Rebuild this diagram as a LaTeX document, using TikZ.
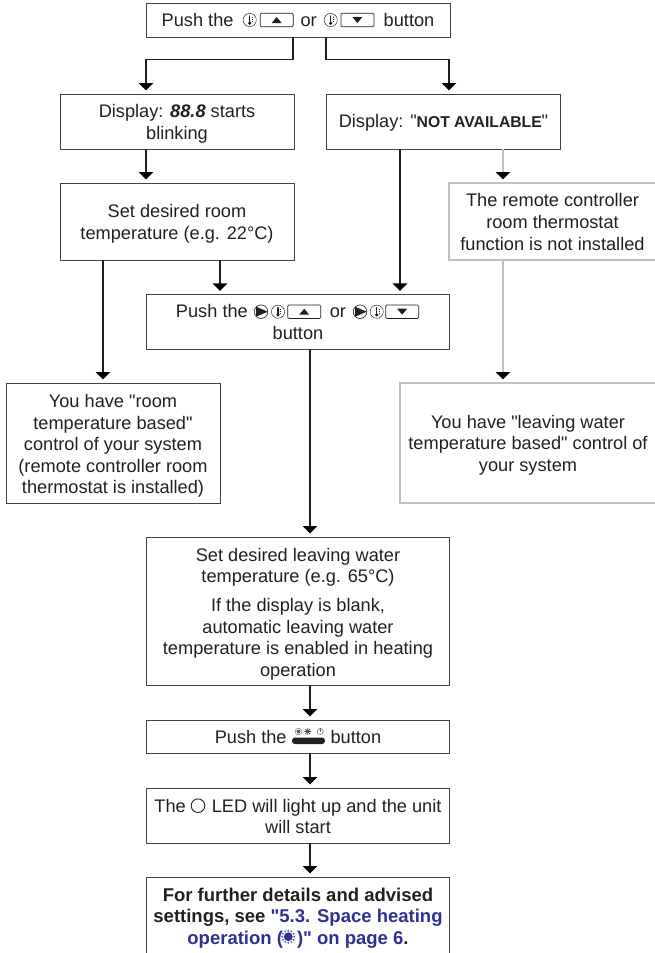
\documentclass[tikz,border=0pt]{standalone}
\usepackage{fontspec}
\setmainfont{Liberation Sans}[Ligatures=TeXOff]
\usetikzlibrary{arrows.meta}
\definecolor{ink}{HTML}{231F20}
\definecolor{lgray}{HTML}{BFC0C4}
\definecolor{lblue}{HTML}{2E3192}
% lowers a node's text by #1 pt: an invisible strut on its first line
\newcommand{\dropby}[1]{\rule{0pt}{\dimexpr 13.2pt+#1pt+#1pt\relax}}
\tikzset{
  box/.style={draw=ink!85!white,line width=0.9pt,inner sep=0pt,outer sep=0pt,align=center,text=ink,
    font=\fontsize{18.2}{21.6}\selectfont},
  graybox/.style={box,draw=lgray,line width=2.6pt},
  noline/.style={box,draw=none},
  flow/.style={draw=ink,line width=1.3pt,shorten >=3.5pt,-{Triangle[width=14.5pt,length=7.5pt,color=black]}},
  grayflow/.style={flow,draw=lgray,line width=2.6pt},
  thermo/.pic={
    \draw[ink,line width=0.45pt] (0,0) circle (6.6);
    \draw[ink,line width=1.3pt,line cap=round] (0,-4) -- (0,3);
    \fill[ink] (0,3.2) circle (1.8);
    \draw[ink,line width=0.4pt] (2,-3) -- (3.2,-3) (2,-1) -- (3.2,-1) (2,1) -- (3.2,1);
  },
  btnup/.pic={
    \draw[ink,line width=0.7pt,rounded corners=1.2pt] (-16.5,-6.7) rectangle (16.5,6.7);
    \fill[ink] (-5,3) -- (5,3) -- (0,-3) -- cycle;
  },
  btndown/.pic={
    \draw[ink,line width=0.7pt,rounded corners=1.2pt] (-16.5,-6.7) rectangle (16.5,6.7);
    \fill[ink] (-5,-3) -- (5,-3) -- (0,3) -- cycle;
  },
  playcirc/.pic={
    \draw[ink,line width=0.6pt] (0,0) circle (6.8);
    \fill[ink] (-5,-5) -- (6.8,0) -- (-5,5) -- cycle;
  },
  sunbtn/.pic={
    \fill[ink,rounded corners=3pt] (-16.5,3) rectangle (16.5,9.5);
    \fill[ink!70!white] (-10,-3) circle (2);
    \draw[ink!70!white,line width=0.4pt] (-10,-3) circle (3.4);
    \draw[ink!80!white,line width=0.8pt] (-0.8,-6.4) -- (-0.8,0.4) (-4.2,-3) -- (2.6,-3) (-3.2,-5.4) -- (1.6,-0.6) (-3.2,-0.6) -- (1.6,-5.4);
    \draw[ink!70!white,line width=0.5pt] (11.8,-3) circle (3);
    \draw[ink!70!white,line width=0.5pt] (11.8,-6.6) -- (11.8,-3);
  },
  sunblue/.pic={
    \fill[lblue] (0,0) circle (4.4);
    \foreach \a in {0,30,...,330}{\fill[lblue!75!white] (\a:6) circle (1.1);}
  },
}
\begin{document}
\begin{tikzpicture}[x=1pt,y=-1pt]
\useasboundingbox (0,0) rectangle (655,953);
% column positions of the connectors
\coordinate (c103) at (103,0);
\coordinate (c146) at (146,0);
\coordinate (c220) at (220,0);
\coordinate (c293) at (293,0);
\coordinate (c310) at (310,0);
\coordinate (c326) at (326,0);
\coordinate (c400) at (400,0);
\coordinate (c449) at (449,0);
\coordinate (c503) at (503,0);
\coordinate (r1) at (0,59.5);
\node[box,minimum width=304pt,minimum height=34pt] (top) at (298,20)
  {Push the\hspace{67pt}or\hspace{67pt}button};
\node[box,minimum width=234pt,minimum height=55pt] (b1) at (177,121.5)
  {\dropby{2}Display: {\bfseries\itshape 88.8} starts\\blinking};
\node[box,minimum width=234pt,minimum height=55pt] (b2) at (443.5,121.5)
  {\dropby{1.5}Display: "{\fontsize{15.7}{15}\selectfont\bfseries NOT AVAILABLE}"};
\node[box,minimum width=234pt,minimum height=77pt] (b3) at (177,221.5)
  {\dropby{2.5}Set desired room\\temperature (e.g. 22°C)};
\node[graybox,minimum width=207pt,minimum height=77pt] (b6) at (552.5,221.5)
  {\dropby{0.5}The remote controller\\room thermostat\\function is not installed};
\node[box,minimum width=303pt,minimum height=54.5pt] (b4) at (298,321.7)
  {\dropby{0.5}Push the\hspace{82pt}or\hspace*{74pt}\\button};
\node[box,minimum width=214pt,minimum height=120pt] (b5) at (113,443)
  {\dropby{3}You have "room\\temperature based"\\control of your system\\(remote controller room\\thermostat is installed)};
\node[graybox,minimum width=256pt,minimum height=120pt] (b7) at (528,443)
  {\dropby{2}You have "leaving water\\temperature based" control of\\your system};
\node[box,minimum width=303pt,minimum height=148pt] (b8) at (298,611)
  {\dropby{3}Set desired leaving water\\temperature (e.g. 65°C)\\[7pt]If the display is blank,\\automatic leaving water\\temperature is enabled in heating\\operation};
\node[box,minimum width=303pt,minimum height=33pt] (b9) at (298,736.5)
  {Push the\hspace{44pt}button};
\node[box,minimum width=303pt,minimum height=55pt] (b10) at (298,815.5)
  {\dropby{1}The\hspace{26pt}LED will light up and the unit\\will start};
\node[noline,minimum width=303pt,minimum height=76pt] (b11) at (298,915)
  {\dropby{3}\fontsize{18.5}{21.6}\selectfont\bfseries For further details and advised\\\fontsize{18.5}{21.6}\selectfont\bfseries settings, see {\color{lblue}"5.3. Space heating}\\\fontsize{18.5}{21.6}\selectfont\bfseries{\color{lblue}operation (\hspace{14pt})" on page 6}.};
\draw[draw=ink!85!white,line width=0.9pt] (b11.south west) -- (b11.north west) -- (b11.north east) -- (b11.south east);
% icons
\pic at (249.7,20) {thermo};
\pic at (276.7,20) {btnup};
\pic at (330.7,20) {thermo};
\pic at (357.4,20) {btndown};
\pic at (261,311.7) {playcirc};
\pic at (278,311.7) {thermo};
\pic at (304.2,311.7) {btnup};
\pic at (360,311.7) {playcirc};
\pic at (376.7,311.7) {thermo};
\pic at (402.2,311.7) {btndown};
\pic at (308.5,734.5) {sunbtn};
\draw[ink,line width=0.9pt] (198,805.7) circle (6.8);
\pic at (288.3,936.7) {sunblue};
% connectors
\draw[flow] (top.south -| c293) |- (r1 -| c146) -- (b1.north -| c146);
\draw[flow] (top.south -| c326) |- (r1 -| c449) -- (b2.north -| c449);
\draw[flow] (b1.south -| c146) -- (b3.north -| c146);
\draw[flow] (b3.south -| c220) -- (b4.north -| c220);
\draw[flow] (b3.south -| c103) -- (b5.north -| c103);
\draw[flow] (b2.south -| c400) -- (b4.north -| c400);
\draw[grayflow] (b2.south -| c503) -- (b6.north -| c503);
\draw[grayflow] (b6.south -| c503) -- (b7.north -| c503);
\draw[flow] (b4.south -| c310) -- (b8.north -| c310);
\draw[flow] (b8.south -| c310) -- (b9.north -| c310);
\draw[flow] (b9.south -| c310) -- (b10.north -| c310);
\draw[flow] (b10.south -| c310) -- (b11.north -| c310);
\end{tikzpicture}
\end{document}
